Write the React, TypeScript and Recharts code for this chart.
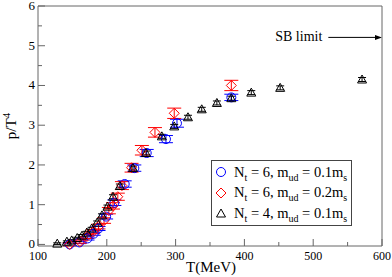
import React from 'react';
import { ScatterChart, Scatter, XAxis, YAxis, ErrorBar, ReferenceLine, Legend } from 'recharts';

const FONT = '"Liberation Serif", "DejaVu Serif", serif';
const AXIS = '#666';
const BLUE = '#0000ff';
const RED = '#ff0000';
const BLACK = '#000000';

// axis ticks (every 50 MeV / 0.5, labels on the big ones)
const xTicks = [100, 150, 200, 250, 300, 350, 400, 450, 500, 550, 600];
const yTicks = [0, 0.5, 1, 1.5, 2, 2.5, 3, 3.5, 4, 4.5, 5, 5.5, 6];

// Nt = 6, mud = 0.1 ms
const nt6LightT = [146, 160, 172, 181, 188, 199, 211, 226, 240, 258, 286, 302, 381];
const nt6LightP = [0.0, 0.05, 0.15, 0.27, 0.4, 0.7, 1.05, 1.52, 1.92, 2.3, 2.65, 3.05, 3.7];
const nt6LightErr = [0.03, 0.03, 0.04, 0.04, 0.05, 0.06, 0.07, 0.08, 0.08, 0.09, 0.09, 0.1, 0.08];

// Nt = 6, mud = 0.2 ms
const nt6HeavyT = [146, 161, 171, 180, 188, 196, 203, 209, 216, 222, 236, 251, 270, 298, 381];
const nt6HeavyP = [0.0, 0.07, 0.2, 0.32, 0.45, 0.6, 0.85, 0.97, 1.2, 1.48, 1.93, 2.37, 2.82, 3.3, 4.0];
const nt6HeavyErr = [0.04, 0.04, 0.05, 0.05, 0.06, 0.07, 0.08, 0.08, 0.09, 0.1, 0.11, 0.12, 0.12, 0.13, 0.13];

// Nt = 4, mud = 0.1 ms
const nt4T = [128, 142, 149, 157, 164, 171, 178, 186, 193, 201, 209, 219, 238, 257, 280, 298, 318, 338, 360, 381, 410, 452, 571];
const nt4P = [0.02, 0.07, 0.1, 0.16, 0.22, 0.3, 0.4, 0.55, 0.73, 0.95, 1.2, 1.47, 1.92, 2.3, 2.72, 2.97, 3.2, 3.4, 3.56, 3.68, 3.82, 3.94, 4.15];
const nt4Err = [0.02, 0.02, 0.02, 0.02, 0.03, 0.03, 0.03, 0.04, 0.04, 0.04, 0.05, 0.05, 0.05, 0.05, 0.05, 0.05, 0.05, 0.05, 0.05, 0.05, 0.05, 0.05, 0.05];

const sbLimit = 5.21;
const sbArrowFrom = 522;

const toRows = (t: number[], p: number[], e: number[]) =>
    t.map((x, i) => ({ t: x, p: p[i], err: e[i] }));

const lightRows = toRows(nt6LightT, nt6LightP, nt6LightErr);
const heavyRows = toRows(nt6HeavyT, nt6HeavyP, nt6HeavyErr);
const nt4Rows = toRows(nt4T, nt4P, nt4Err);

const OpenCircle = (p: any) => <circle cx={p.cx} cy={p.cy} r={4.5} fill="none" stroke={BLUE} />;
const OpenDiamond = (p: any) => (
    <polygon
        points={`${p.cx},${p.cy - 5} ${p.cx + 5},${p.cy} ${p.cx},${p.cy + 5} ${p.cx - 5},${p.cy}`}
        fill="none"
        stroke={RED}
    />
);
const OpenTriangle = (p: any) => (
    <polygon
        points={`${p.cx},${p.cy - 4.5} ${p.cx + 4.5},${p.cy + 3.5} ${p.cx - 4.5},${p.cy + 3.5}`}
        fill="none"
        stroke={BLACK}
    />
);

const isMajor = (v: number) => Math.abs(v - Math.round(v)) < 1e-6;
const textStyle: React.CSSProperties = { fontFamily: FONT };

const BottomTick = (p: any) => {
    const major = p.payload.value % 100 === 0;
    return (
        <g>
            <line x1={p.x} y1={p.y} x2={p.x} y2={p.y - (major ? 7 : 4)} stroke={AXIS} />
            {major && (
                <text x={p.x} y={p.y + 14} textAnchor="middle" style={textStyle} fontSize={12} fill="#000">
                    {p.payload.value}
                </text>
            )}
        </g>
    );
};

const TopTick = (p: any) => {
    const major = p.payload.value % 100 === 0;
    return <line x1={p.x} y1={p.y} x2={p.x} y2={p.y + (major ? 7 : 4)} stroke={AXIS} />;
};

const LeftTick = (p: any) => {
    const major = isMajor(p.payload.value);
    return (
        <g>
            <line x1={p.x} y1={p.y} x2={p.x + (major ? 7 : 4)} y2={p.y} stroke={AXIS} />
            {major && (
                <text x={p.x - 3} y={p.y + 4} textAnchor="end" style={textStyle} fontSize={13} fill="#000">
                    {p.payload.value}
                </text>
            )}
        </g>
    );
};

const RightTick = (p: any) => {
    const major = isMajor(p.payload.value);
    return <line x1={p.x} y1={p.y} x2={p.x - (major ? 7 : 4)} y2={p.y} stroke={AXIS} />;
};

const YTitle = () => {
    const cx = 16;
    const cy = 126;
    return (
        <text x={cx} y={cy} transform={`rotate(-90 ${cx} ${cy})`} textAnchor="middle" style={textStyle} fontSize={15} fill="#000">
            p/T<tspan dy={-6} fontSize={11}>4</tspan>
        </text>
    );
};

const SBArrow = (p: any) => {
    const { x1, y1, x2, y2 } = p;
    return (
        <g>
            <line x1={x1} y1={y1} x2={x2 - 5} y2={y2} stroke="#000" />
            <polygon points={`${x2},${y2} ${x2 - 7},${y2 - 2.5} ${x2 - 7},${y2 + 2.5}`} fill="#000" />
            <text x={x1 - 6} y={y1 + 4} textAnchor="end" style={textStyle} fontSize={14} fill="#000">
                SB limit
            </text>
        </g>
    );
};

const subStyle: React.CSSProperties = { fontSize: 10, verticalAlign: '-4px', lineHeight: 0 };

const LegendRow = ({ marker, heavy, nt }: { marker: React.ReactNode; heavy: string; nt: string }) => (
    <div style={{ display: 'flex', alignItems: 'center', height: 20.5 }}>
        <svg width={12} height={12} style={{ marginRight: 7 }}>
            {marker}
        </svg>
        <span>
            N<sub style={subStyle}>t</sub> = {nt}, m<sub style={subStyle}>ud</sub> = {heavy}m<sub style={subStyle}>s</sub>
        </span>
    </div>
);

const LegendBox = () => (
    <div
        style={{
            border: '1px solid #444',
            background: '#fff',
            padding: '1px 4px 1px 3px',
            fontFamily: FONT,
            fontSize: 14.5,
            color: '#000',
            whiteSpace: 'nowrap',
        }}
    >
        <LegendRow nt="6" heavy="0.1" marker={<OpenCircle cx={6} cy={6} />} />
        <LegendRow nt="6" heavy="0.2" marker={<OpenDiamond cx={6} cy={6} />} />
        <LegendRow nt="4" heavy="0.1" marker={<OpenTriangle cx={6} cy={6.5} />} />
    </div>
);

export default function App() {
    return (
        <div style={{ position: 'absolute', left: 0, top: 0 }}>
            <ScatterChart width={392} height={277} margin={{ top: 5, right: 9, bottom: 0, left: 0 }}>
                <XAxis
                    xAxisId="x"
                    dataKey="t"
                    type="number"
                    domain={[100, 600]}
                    ticks={xTicks}
                    interval={0}
                    height={31}
                    stroke={AXIS}
                    tickLine={false}
                    tickSize={0}
                    tickMargin={0}
                    tick={(p: any) => <BottomTick {...p} />}
                    label={() => (
                        <text x={211} y={272} textAnchor="middle" style={textStyle} fontSize={15} fill="#000">
                            T(MeV)
                        </text>
                    )}
                />
                <XAxis
                    xAxisId="top"
                    orientation="top"
                    type="number"
                    domain={[100, 600]}
                    ticks={xTicks}
                    interval={0}
                    height={1}
                    stroke={AXIS}
                    tickLine={false}
                    tickSize={0}
                    tickMargin={0}
                    tick={(p: any) => <TopTick {...p} />}
                />
                <YAxis
                    yAxisId="y"
                    dataKey="p"
                    type="number"
                    domain={[0, 6]}
                    ticks={yTicks}
                    interval={0}
                    width={38}
                    stroke={AXIS}
                    tickLine={false}
                    tickSize={0}
                    tickMargin={0}
                    tick={(p: any) => <LeftTick {...p} />}
                    label={() => <YTitle />}
                />
                <YAxis
                    yAxisId="right"
                    orientation="right"
                    type="number"
                    domain={[0, 6]}
                    ticks={yTicks}
                    interval={0}
                    width={1}
                    stroke={AXIS}
                    tickLine={false}
                    tickSize={0}
                    tickMargin={0}
                    tick={(p: any) => <RightTick {...p} />}
                />
                <ReferenceLine
                    xAxisId="x"
                    yAxisId="y"
                    segment={[
                        { x: sbArrowFrom, y: sbLimit },
                        { x: 600, y: sbLimit },
                    ]}
                    shape={(p: any) => <SBArrow {...p} />}
                />
                <Scatter xAxisId="x" yAxisId="y" data={lightRows} shape={(p: any) => <OpenCircle {...p} />} isAnimationActive={false}>
                    <ErrorBar dataKey="err" direction="y" width={7} stroke={BLUE} strokeWidth={1} />
                </Scatter>
                <Scatter xAxisId="x" yAxisId="y" data={heavyRows} shape={(p: any) => <OpenDiamond {...p} />} isAnimationActive={false}>
                    <ErrorBar dataKey="err" direction="y" width={7} stroke={RED} strokeWidth={1} />
                </Scatter>
                <Scatter xAxisId="x" yAxisId="y" data={nt4Rows} shape={(p: any) => <OpenTriangle {...p} />} isAnimationActive={false}>
                    <ErrorBar dataKey="err" direction="y" width={4} stroke={BLACK} strokeWidth={1} />
                </Scatter>
                <Legend
                    layout="horizontal"
                    verticalAlign="middle"
                    align="center"
                    content={() => <LegendBox />}
                    wrapperStyle={{ position: 'absolute', left: 211, top: 160, width: 'auto' }}
                />
            </ScatterChart>
        </div>
    );
}
